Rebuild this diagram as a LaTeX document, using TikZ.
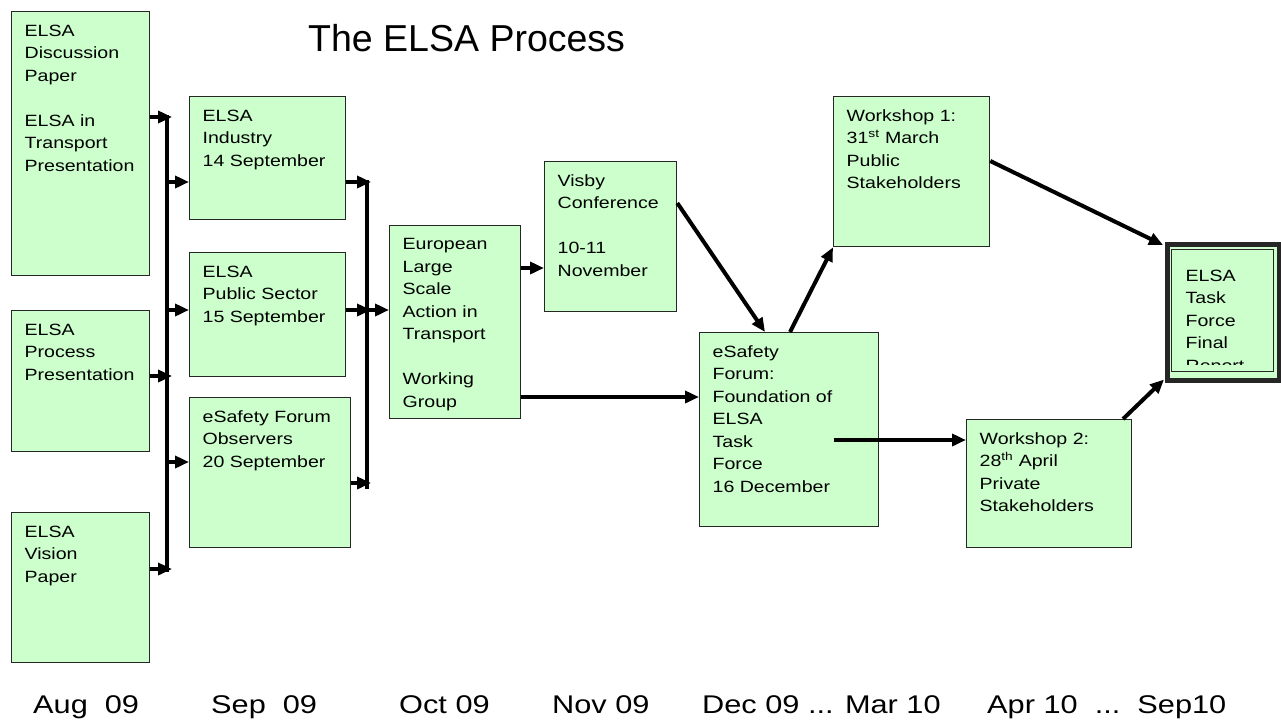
\documentclass[tikz,border=0pt]{standalone}
\usepackage{fontspec}
\setmainfont{Liberation Sans}
\newfontfamily\stagefont[FakeStretch=1.2]{Liberation Sans}
\usetikzlibrary{arrows.meta}
\definecolor{elsagreen}{HTML}{CCFFCC}
\newcommand{\stagetxt}[3]{\parbox[c][#2][t]{#1}{\raggedright #3}}

\begin{document}
\begin{tikzpicture}[x=1pt, y=-1pt,
    stage/.style={draw=black!85, line width=1.3pt, fill=elsagreen, anchor=north west,
        inner sep=13pt, font=\stagefont\fontsize{16.3}{22.5}\selectfont},
    flow/.style={line width=4pt, -{Triangle[length=14pt,width=12pt]}},
    bus/.style={line width=4pt},
    month/.style={anchor=base west, inner sep=0pt, font=\stagefont\fontsize{25.6}{30}\selectfont}]

    \useasboundingbox (0,0) rectangle (1281,721);

    \node[anchor=base west, inner sep=0pt, font=\fontsize{37.5}{45}\selectfont] (title) at (308,51.7) {The ELSA Process};

    % August inputs
    \node[stage] (disc) at (11,11) {\stagetxt{112pt}{238pt}{ELSA\\Discussion\\Paper\\[\baselineskip]ELSA in\\Transport\\Presentation}};
    \node[stage] (procpres) at (11,310) {\stagetxt{112pt}{115pt}{ELSA\\Process\\Presentation}};
    \node[stage] (vision) at (11,512) {\stagetxt{112pt}{124pt}{ELSA\\Vision\\Paper}};

    % September meetings
    \node[stage] (industry) at (189,96) {\stagetxt{130pt}{97pt}{ELSA\\Industry\\14 September}};
    \node[stage] (public) at (189,252) {\stagetxt{130pt}{98pt}{ELSA\\Public Sector\\15 September}};
    \node[stage] (observers) at (189,397) {\stagetxt{135pt}{124pt}{eSafety Forum\\Observers\\20 September}};

    \node[stage] (euro) at (389,225) {\stagetxt{105pt}{167pt}{European\\Large\\Scale\\Action in\\Transport\\[\baselineskip]Working\\Group}};
    \node[stage] (visby) at (544,161) {\stagetxt{106pt}{124pt}{Visby\\Conference\\[\baselineskip]10-11\\November}};
    \node[stage] (esafety) at (699,332) {\stagetxt{153pt}{168pt}{eSafety\\Forum:\\Foundation of\\ELSA\\Task\\Force\\16 December}};
    \node[stage] (ws1) at (833,96) {\stagetxt{130pt}{124pt}{Workshop 1:\\31\textsuperscript{st} March\\Public\\Stakeholders}};
    \node[stage] (ws2) at (966,419) {\stagetxt{139pt}{102pt}{Workshop 2:\\28\textsuperscript{th} April\\Private\\Stakeholders}};

    % final report, double frame
    \node[stage, line width=4.5pt, inner sep=0pt, minimum width=112pt, minimum height=136pt] (final) at (1165,242) {};
    \node[stage, inner sep=0pt, minimum width=102pt, minimum height=122pt] (finalin) at (1171,249) {};
    \begin{scope}
        \clip (finalin.north west) rectangle (1273,364);
        \node[stage, draw=none, fill=none, inner sep=0pt] (finaltxt) at (1185,269) {\stagetxt{80pt}{100pt}{ELSA\\Task\\Force\\Final\\Report}};
    \end{scope}

    % junction lines
    \coordinate (busa top) at (167,115);
    \coordinate (busa bot) at (167,572);
    \coordinate (busb top) at (367,180);
    \coordinate (busb bot) at (367,489);
    \draw[bus] (busa top) -- (busa bot);
    \draw[bus] (busb top) -- (busb bot);

    \coordinate (ina) at (172,117);
    \coordinate (ine) at (172,376);
    \coordinate (inf) at (172,569);
    \coordinate (outb) at (167,182);
    \coordinate (outc) at (167,310);
    \coordinate (outd) at (167,462);
    \coordinate (inb) at (371,182);
    \coordinate (inc) at (371,310);
    \coordinate (ind) at (371,483);
    \coordinate (outg) at (367,310);
    \coordinate (esafe out) at (834,440);

    \draw[flow] (disc.east |- ina) -- (ina);
    \draw[flow] (procpres.east |- ine) -- (ine);
    \draw[flow] (vision.east |- inf) -- (inf);
    \draw[flow] (outb) -- (industry.west |- outb);
    \draw[flow] (outc) -- (public.west |- outc);
    \draw[flow] (outd) -- (observers.west |- outd);
    \draw[flow] (industry.east |- inb) -- (inb);
    \draw[flow] (public.east |- inc) -- (inc);
    \draw[flow] (observers.east |- ind) -- (ind);
    \draw[flow] (outg) -- (euro.west |- outg);

    \draw[flow] (euro.east |- 0,268) -- (visby.west |- 0,268);
    \draw[flow] (euro.east |- 0,397) -- (esafety.west |- 0,397);
    \draw[flow] (visby.east |- 0,203) -- (765,0 |- esafety.north);
    \draw[flow] (790,0 |- esafety.north) -- (ws1.south west);
    \draw[flow] (esafe out) -- (ws2.west |- esafe out);
    \draw[flow] (ws1.east |- 0,161) -- ([shift={(-2,3)}]final.north west);
    \draw[flow] (1123,0 |- ws2.north) -- ([shift={(-1,-3)}]final.south west);

    % time line
    \node[month] (aug) at (33,713) {Aug~~09};
    \node[month] (sep) at (211,713) {Sep~~09};
    \node[month] (oct) at (399,713) {Oct 09};
    \node[month] (nov) at (552,713) {Nov 09};
    \node[month] (dec) at (702,713) {Dec 09 ... Mar 10};
    \node[month] (apr) at (987,713) {Apr 10~~...~~Sep10};
\end{tikzpicture}
\end{document}
